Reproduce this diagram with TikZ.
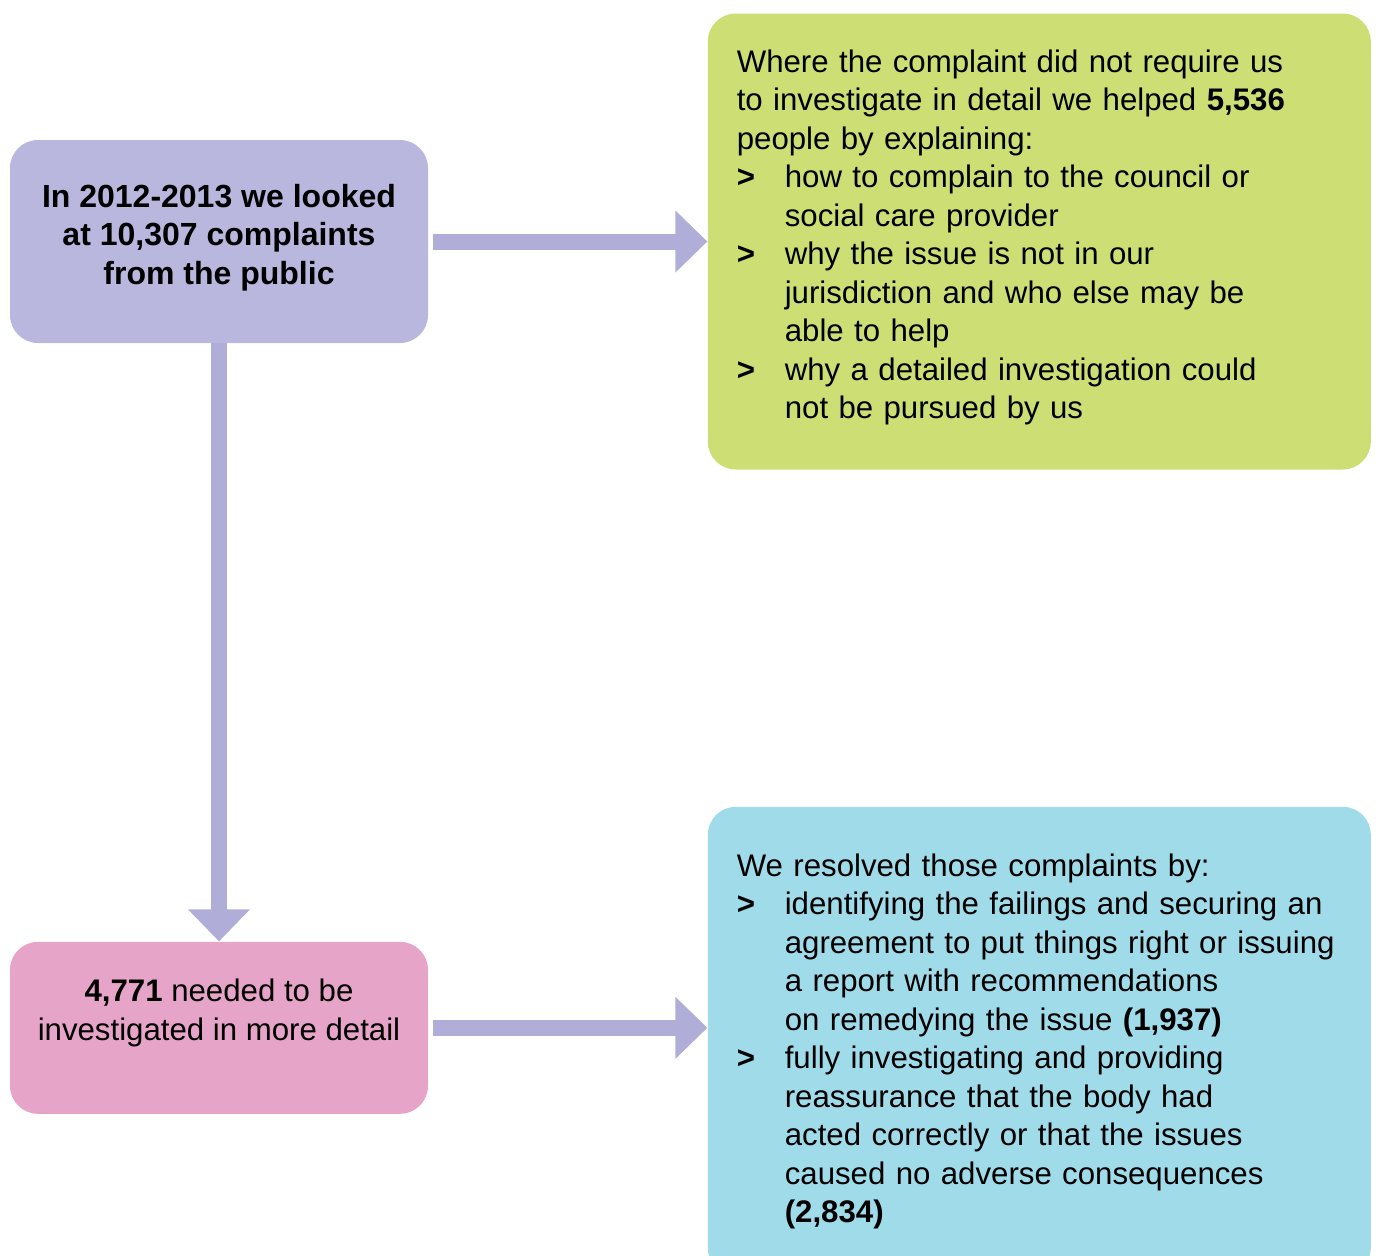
\documentclass[tikz,border=0pt]{standalone}
\usepackage{fontspec}
\setmainfont{Liberation Sans}
\usetikzlibrary{arrows.meta,positioning}
\definecolor{Lilac}{HTML}{B0ADD8}
\definecolor{Heather}{HTML}{B9B7DE}
\definecolor{Lime}{HTML}{CDDE75}
\definecolor{Orchid}{HTML}{E6A5C8}
\definecolor{Aqua}{HTML}{A0DBE9}
\newcommand{\bul}{\makebox[24pt][l]{\textbf{>}}}
\newcommand{\ind}{\hspace*{24pt}}
\tikzset{
  box/.style={rounded corners=14pt, draw=none, inner sep=0pt, font=\fontsize{15.6pt}{19.25pt}\selectfont},
  boxsmall/.style={box, minimum width=209pt, align=center},
  boxwide/.style={box, minimum width=331.5pt, text width=302.5pt, align=left},
  pipe/.style={draw=Lilac, line width=8pt, -{Triangle[length=16pt,width=30pt]}}
}
\begin{document}
\begin{tikzpicture}[x=0.5pt, y=-0.5pt, node distance=139.5pt]
\useasboundingbox (0,0) rectangle (1376,1255);
\node[boxsmall, fill=Heather, minimum height=101.5pt, text depth=7.5pt, font=\fontsize{16pt}{19.25pt}\selectfont\bfseries] (looked) at (219,241.5) {In 2012-2013 we looked\\at 10,307 complaints\\from the public};
\node[boxwide, fill=Lime, minimum height=228pt, text height=7.3pt, right=of looked] (helped) {Where the complaint did not require us\\to investigate in detail we helped \textbf{5,536}\\people by explaining:\\
\bul how to complain to the council or\\\ind social care provider\\
\bul why the issue is not in our\\\ind jurisdiction and who else may be\\\ind able to help\\
\bul why a detailed investigation could\\\ind not be pursued by us};
\node[boxsmall, fill=Orchid, minimum height=86pt, text depth=18pt, below=299pt of looked] (detail) {\textbf{4,771} needed to be\\investigated in more detail};
\node[boxwide, fill=Aqua, minimum height=234.5pt, right=of detail, yshift=-6.75pt] (resolved) {We resolved those complaints by:\\
\bul identifying the failings and securing an\\\ind agreement to put things right or issuing\\\ind a report with recommendations\\\ind on remedying the issue \textbf{(1,937)}\\
\bul fully investigating and providing\\\ind reassurance that the body had\\\ind acted correctly or that the issues\\\ind caused no adverse consequences\\\ind \textbf{(2,834)}};
\draw[pipe] ([xshift=2.5pt]looked.east) -- (helped.west);
\draw[pipe] (looked.south) -- (detail.north);
\draw[pipe] ([xshift=2.5pt]detail.east) -- (detail.east -| resolved.west);
\end{tikzpicture}
\end{document}
